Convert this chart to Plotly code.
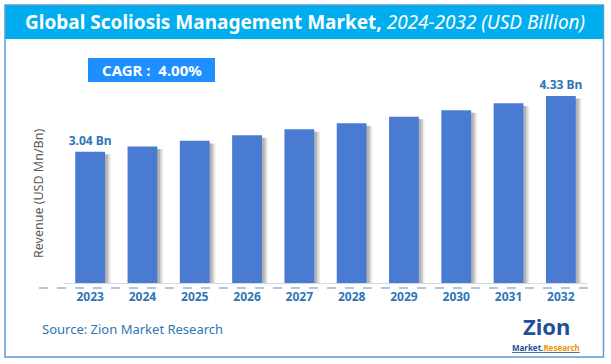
import plotly.graph_objects as go

years = ["2023", "2024", "2025", "2026", "2027", "2028", "2029", "2030", "2031", "2032"]
revenue = [3.04, 3.16, 3.29, 3.42, 3.56, 3.70, 3.85, 4.00, 4.16, 4.33]
bar_labels = ["3.04 Bn", "", "", "", "", "", "", "", "", "4.33 Bn"]

W, H = 611, 364
L, R, T, B = 64, 24, 67, 81
PW, PH = W - L - R, H - T - B

def px(x):
    return (x - L) / PW

def py(y):
    return (H - B - y) / PH

BW = 0.57
fig = go.Figure()
# soft shadows to the right of each bar
for shift, alpha in [(0.11, 0.10), (0.08, 0.14), (0.05, 0.20)]:
    fig.add_trace(go.Bar(
        x=years, y=[v - 0.06 for v in revenue], width=BW, offset=-BW / 2 + shift,
        marker=dict(color=f"rgba(60,60,60,{alpha})", line=dict(width=0)),
        hoverinfo="skip", showlegend=False))
fig.add_trace(go.Bar(
    x=years, y=revenue, width=BW, offset=-BW / 2,
    marker=dict(color="#4A7BD2", line=dict(width=0)),
    text=bar_labels, textposition="outside", cliponaxis=False, constraintext="none",
    textfont=dict(family="Noto Sans", size=12, color="#2E75B6"),
    texttemplate="<b>%{text}</b>", showlegend=False))

shapes = [
    # outer border
    dict(type="rect", xref="paper", yref="paper", x0=px(5), x1=px(603.5), y0=py(357), y1=py(5),
         line=dict(color="#5B9BD5", width=1.5), fillcolor="rgba(0,0,0,0)", layer="above"),
    # banner
    dict(type="rect", xref="paper", yref="paper", x0=px(5), x1=px(603.5), y0=py(39), y1=py(5),
         line=dict(width=0), fillcolor="#00AEEF", layer="below"),
    # CAGR box
    dict(type="rect", xref="paper", yref="paper", x0=px(88), x1=px(215), y0=py(82), y1=py(58),
         line=dict(width=0), fillcolor="#1E8FFF", layer="above"),
    # dashed line below axis
    dict(type="line", xref="paper", yref="paper", x0=px(39), x1=px(593), y0=py(288), y1=py(288),
         line=dict(color="#5B8FD5", width=1, dash="dash"), layer="above"),
]

annotations = [
    dict(text="<b>Global Scoliosis Management Market,</b> <i>2024-2032 (USD Billion)</i>",
         xref="paper", yref="paper", x=px(305), y=py(22), showarrow=False,
         font=dict(family="Noto Sans", size=19, color="white"), xanchor="center", yanchor="middle"),
    dict(text="<b>CAGR :  4.00%</b>", xref="paper", yref="paper", x=px(151.5), y=py(70),
         showarrow=False, font=dict(family="Noto Sans", size=15, color="white"),
         xanchor="center", yanchor="middle"),
    dict(text="Revenue (USD Mn/Bn)", xref="paper", yref="paper", x=px(38), y=py(194),
         textangle=-90, showarrow=False, font=dict(family="Noto Sans", size=12.5, color="#595959"),
         xanchor="center", yanchor="middle"),
    dict(text="Source: Zion Market Research", xref="paper", yref="paper", x=px(40), y=py(329),
         showarrow=False, font=dict(family="Noto Sans", size=13, color="#2E75B6"),
         xanchor="left", yanchor="middle"),
    dict(text="<b>Zion</b>", xref="paper", yref="paper", x=px(546), y=py(326),
         showarrow=False, font=dict(family="Noto Sans", size=22, color="#1F4E9A"),
         xanchor="center", yanchor="middle"),
    dict(text="<b><u>Market.<span style='color:#F39200'>Research</span></u></b>", xref="paper", yref="paper",
         x=px(546), y=py(347), showarrow=False, font=dict(family="Noto Sans", size=8, color="#1F4E9A"),
         xanchor="center", yanchor="middle"),
]

fig.update_layout(
    width=W, height=H, margin=dict(l=L, r=R, t=T, b=B),
    paper_bgcolor="white", plot_bgcolor="white",
    barmode="overlay", bargap=0.43,
    shapes=shapes, annotations=annotations,
    xaxis=dict(type="category", range=[-0.5, 9.5], showgrid=False, showline=True,
               linecolor="#D9D9D9", linewidth=1, ticks="", ticklabelstandoff=3,
               tickfont=dict(family="Noto Sans", size=12, color="#2E75B6", weight="bold")),
    yaxis=dict(range=[0, 5], showgrid=False, showticklabels=False, zeroline=False, showline=False),
)

fig.write_html("out.html", config={"displayModeBar": False},
               post_script="document.body.style.margin='0';")
